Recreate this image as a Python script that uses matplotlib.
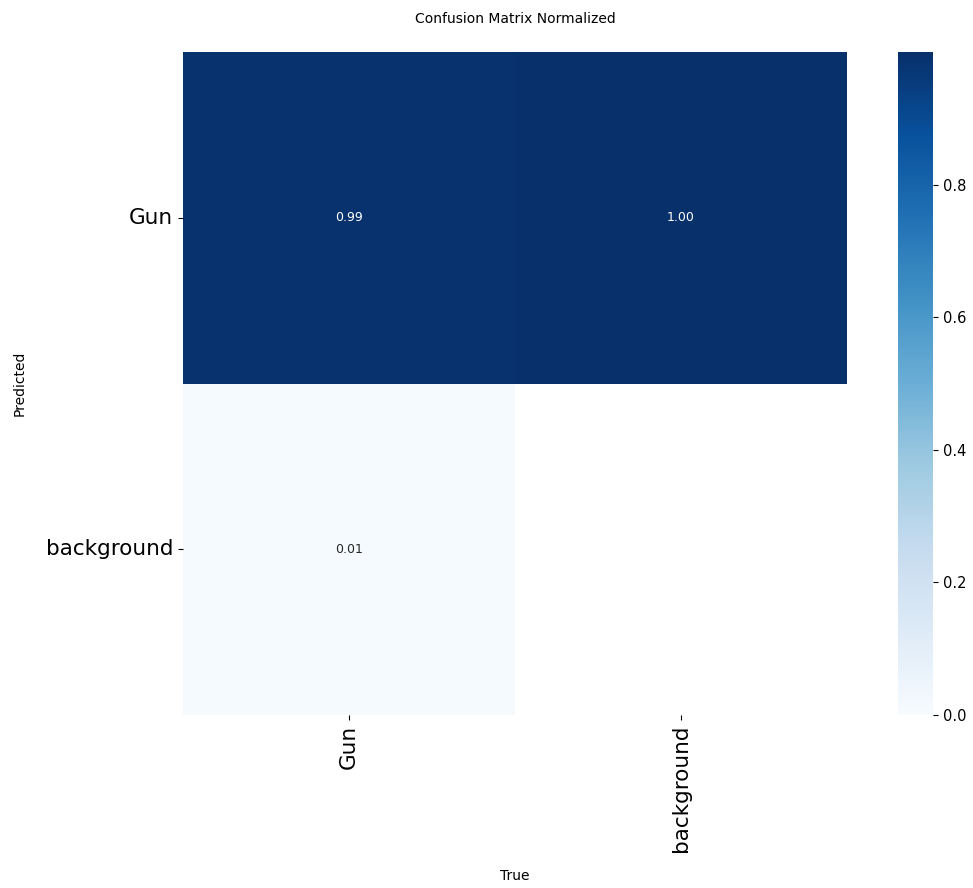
import numpy as np
import seaborn as sns
import matplotlib
matplotlib.use("Agg")
import matplotlib.pyplot as plt

# normalized confusion matrix: rows = predicted, columns = true
names = ["Gun", "background"]
gun_row = [0.99, 1.00]
background_row = [0.01, np.nan]   # empty cell left blank
cbar_ticks = [0.0, 0.2, 0.4, 0.6, 0.8]

matrix = np.array([gun_row, background_row])

fig = plt.figure(figsize=(9.73, 8.88), dpi=100)
ax = fig.add_axes([183 / 973, 1 - 715 / 888, 664 / 973, 663 / 888])
cax = fig.add_axes([898 / 973, 1 - 715 / 888, 35 / 973, 663 / 888])

sns.heatmap(matrix, ax=ax, cbar_ax=cax, annot=True, fmt=".2f",
            annot_kws={"size": 9}, cmap="Blues", vmin=0.0, vmax=1.0,
            xticklabels=names, yticklabels=names)
ax.set_facecolor((1, 1, 1))

ax.tick_params(axis="x", labelsize=15.5, labelrotation=90)
ax.tick_params(axis="y", labelsize=15.5, labelrotation=0)
ax.set_xlabel("True", fontsize=10, labelpad=12)
ax.set_ylabel("Predicted", fontsize=10, labelpad=14)
ax.set_title("Confusion Matrix Normalized", fontsize=10, pad=21)

cax.set_yticks(cbar_ticks)
cax.tick_params(labelsize=10.5)

fig.savefig("out.png", dpi=100)
